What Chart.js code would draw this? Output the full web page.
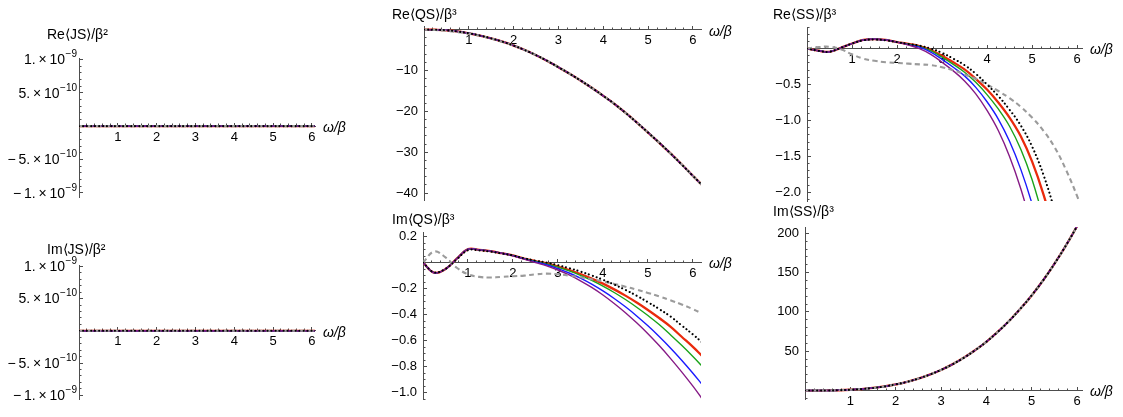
<!DOCTYPE html>
<html>
<head>
<meta charset="utf-8">
<title>Correlators vs omega/beta</title>
<script src="https://cdn.jsdelivr.net/npm/chart.js@4.4.1/dist/chart.umd.min.js"></script>
<style>
    html, body { margin: 0; padding: 0; background: #fff; }
    #wrap { position: relative; width: 1123px; height: 417px; overflow: hidden; }
    #wrap canvas { position: absolute; left: 0; top: 0; }
</style>
</head>
<body>
<div id="wrap"></div>
<script>
// ============================================
// DATA
// ============================================

const omega = [0, 0.25, 0.5, 0.75, 1, 1.25, 1.5, 1.75, 2, 2.25, 2.5, 2.75, 3,
    3.25, 3.5, 3.75, 4, 4.25, 4.5, 4.75, 5, 5.25, 5.5, 5.75, 6, 6.2];

// <JS> vanishes identically
const reJS = [0, 0, 0, 0, 0, 0, 0, 0, 0, 0, 0, 0, 0, 0, 0, 0, 0, 0, 0, 0, 0, 0, 0, 0, 0, 0];
const imJS = [0, 0, 0, 0, 0, 0, 0, 0, 0, 0, 0, 0, 0, 0, 0, 0, 0, 0, 0, 0, 0, 0, 0, 0, 0, 0];

// Re<QS>: all curves on top of each other
const reQS = [0, -0.03, -0.15, -0.45, -0.9, -1.45, -2.15, -2.95, -3.9, -5.0, -6.25, -7.65, -9.2,
    -10.8, -12.5, -14.3, -16.2, -18.2, -20.4, -22.75, -25.2, -27.7, -30.3, -33.0, -35.8, -38.0];
const reQSGray = [0, -0.1, -0.3, -0.6, -1.0, -1.5, -2.2, -3.0, -3.9, -5.0, -6.25, -7.65, -9.2,
    -10.8, -12.5, -14.3, -16.2, -18.2, -20.4, -22.75, -25.2, -27.7, -30.3, -33.0, -35.8, -38.0];

// Re<SS>
const reSSPurple = [0, -0.03, -0.045, 0.01, 0.07, 0.12, 0.13, 0.12, 0.09, 0.05, 0.0, -0.08, -0.19,
    -0.31, -0.45, -0.63, -0.86, -1.14, -1.5, -1.95, -2.5, -3.15, -3.9, -4.8, -5.8, -6.7];
const reSSBlue = [0, -0.03, -0.045, 0.01, 0.07, 0.12, 0.13, 0.12, 0.09, 0.055, 0.02, -0.05, -0.15,
    -0.26, -0.38, -0.54, -0.74, -0.98, -1.29, -1.68, -2.16, -2.75, -3.4, -4.2, -5.1, -5.9];
const reSSGreen = [0, -0.03, -0.045, 0.01, 0.07, 0.12, 0.13, 0.12, 0.09, 0.06, 0.03, -0.03, -0.12,
    -0.22, -0.33, -0.47, -0.64, -0.84, -1.08, -1.40, -1.82, -2.36, -2.95, -3.65, -4.45, -5.2];
const reSSRed = [0, -0.03, -0.045, 0.01, 0.07, 0.12, 0.13, 0.12, 0.09, 0.065, 0.035, -0.02, -0.10,
    -0.19, -0.29, -0.42, -0.57, -0.75, -0.96, -1.22, -1.57, -2.02, -2.58, -3.25, -4.0, -4.7];
const reSSDotted = [0, -0.03, -0.045, 0.01, 0.07, 0.115, 0.125, 0.115, 0.09, 0.065, 0.04, 0.0, -0.06,
    -0.14, -0.23, -0.35, -0.5, -0.66, -0.85, -1.07, -1.36, -1.75, -2.25, -2.85, -3.5, -4.1];
const reSSGray = [0, 0.02, 0.025, -0.01, -0.08, -0.14, -0.17, -0.19, -0.2, -0.21, -0.22, -0.23, -0.26,
    -0.3, -0.36, -0.42, -0.5, -0.59, -0.69, -0.81, -0.96, -1.14, -1.37, -1.68, -2.05, -2.4];

// Im<QS>
const imQSPurple = [0, -0.078, -0.05, 0.03, 0.103, 0.098, 0.088, 0.072, 0.052, 0.026, 0.0, -0.025, -0.057,
    -0.095, -0.14, -0.191, -0.249, -0.314, -0.385, -0.463, -0.547, -0.638, -0.736, -0.84, -0.95, -1.044];
const imQSBlue = [0, -0.078, -0.05, 0.03, 0.103, 0.098, 0.088, 0.072, 0.053, 0.028, 0.005, -0.017, -0.046,
    -0.08, -0.12, -0.166, -0.218, -0.276, -0.34, -0.41, -0.486, -0.568, -0.656, -0.75, -0.85, -0.935];
const imQSGreen = [0, -0.078, -0.05, 0.03, 0.103, 0.098, 0.088, 0.072, 0.054, 0.03, 0.01, -0.01, -0.035,
    -0.064, -0.098, -0.137, -0.181, -0.23, -0.284, -0.343, -0.407, -0.476, -0.555, -0.636, -0.722, -0.795];
const imQSRed = [0, -0.078, -0.05, 0.03, 0.103, 0.098, 0.088, 0.072, 0.055, 0.031, 0.012, -0.007, -0.03,
    -0.057, -0.088, -0.123, -0.162, -0.206, -0.254, -0.307, -0.364, -0.426, -0.492, -0.57, -0.648, -0.716];
const imQSDotted = [0, -0.075, -0.048, 0.025, 0.095, 0.093, 0.084, 0.07, 0.054, 0.033, 0.015, 0.0, -0.02,
    -0.043, -0.069, -0.099, -0.132, -0.169, -0.21, -0.255, -0.304, -0.357, -0.414, -0.483, -0.552, -0.612];
const imQSGray = [0, 0.085, 0.04, -0.04, -0.09, -0.11, -0.115, -0.11, -0.105, -0.1, -0.09, -0.085, -0.09,
    -0.1, -0.113, -0.128, -0.145, -0.164, -0.185, -0.208, -0.233, -0.26, -0.289, -0.322, -0.358, -0.39];

// Im<SS>: all curves on top of each other
const imSS = [0, 0, 0.1, 0.4, 1, 1.9, 3.3, 5.2, 7.8, 11, 15.2, 20.2, 26.2,
    33.3, 41.6, 51.2, 62, 74.5, 88.4, 104, 121, 140, 161, 184, 209, 231];

// tick labels
const xTickValues = [1, 2, 3, 4, 5, 6];
const xTickLabels = ['1', '2', '3', '4', '5', '6'];
const jsTickValues = [-1e-9, -5e-10, 5e-10, 1e-9];
const jsTickBase = ['\u2212\u20091.\u2009\u00d7\u200910', '\u2212\u20095.\u2009\u00d7\u200910',
    '5.\u2009\u00d7\u200910', '1.\u2009\u00d7\u200910'];
const jsTickExp = ['\u22129', '\u221210', '\u221210', '\u22129'];
const reQSTickValues = [-40, -30, -20, -10];
const reQSTickLabels = ['\u221240', '\u221230', '\u221220', '\u221210'];
const reSSTickValues = [-2, -1.5, -1, -0.5];
const reSSTickLabels = ['\u22122.0', '\u22121.5', '\u22121.0', '\u22120.5'];
const imQSTickValues = [-1, -0.8, -0.6, -0.4, -0.2, 0.2];
const imQSTickLabels = ['\u22121.0', '\u22120.8', '\u22120.6', '\u22120.4', '\u22120.2', '0.2'];
const imSSTickValues = [50, 100, 150, 200];
const imSSTickLabels = ['50', '100', '150', '200'];

// ============================================
// STYLE / LAYOUT
// ============================================

const FONT = '"Liberation Sans", Arial, Helvetica, sans-serif';
const AXIS_COLOR = '#4d4d4d';
const Y_LABEL_BOX = 75;   // room kept left of each y axis for its labels

// drawn bottom -> top (higher order is drawn first)
const seriesStyle = {
    red:    { color: '#ea2a0c', width: 2.3, dash: [], order: 6 },
    green:  { color: '#1aa31a', width: 1.4, dash: [], order: 5 },
    blue:   { color: '#1a1aff', width: 1.4, dash: [], order: 4 },
    purple: { color: '#861a86', width: 1.4, dash: [], order: 3 },
    gray:   { color: '#9b9b9b', width: 2.1, dash: [5, 3.5], order: 2 },
    dotted: { color: '#000000', width: 2.1, dash: [0.01, 4], order: 1, cap: 'round' }
};

const panels = [
    {
        title: 'Re\u27e8JS\u27e9/\u03b2\u00b2', titleOffset: [-32, -23],
        area: [79, 58, 315, 197], x: [0, 6.08], y: [-1.06e-9, 1.02e-9],
        yStep: [5e-10, 1e-10], yTicks: [jsTickValues, null], sci: [jsTickValues, jsTickBase, jsTickExp],
        series: { red: reJS, green: reJS, blue: reJS, purple: reJS, gray: reJS, dotted: reJS }
    },
    {
        title: 'Re\u27e8QS\u27e9/\u03b2\u00b3', titleOffset: [-32, -13],
        area: [424, 28, 701, 200], x: [0, 6.18], y: [-41.7, 0.4],
        yStep: [10, 2], yTicks: [reQSTickValues, reQSTickLabels],
        series: { red: reQS, green: reQS, blue: reQS, purple: reQS, gray: reQSGray, dotted: reQS }
    },
    {
        title: 'Re\u27e8SS\u27e9/\u03b2\u00b3', titleOffset: [-34, -12],
        area: [807, 27, 1082, 201], x: [0, 6.11], y: [-2.12, 0.3],
        yStep: [0.5, 0.1], yTicks: [reSSTickValues, reSSTickLabels],
        series: { red: reSSRed, green: reSSGreen, blue: reSSBlue, purple: reSSPurple, gray: reSSGray, dotted: reSSDotted }
    },
    {
        title: 'Im\u27e8JS\u27e9/\u03b2\u00b2', titleOffset: [-32, -15],
        area: [79, 265, 315, 406], x: [0, 6.08], y: [-1.06e-9, 1.02e-9],
        yStep: [5e-10, 1e-10], yTicks: [jsTickValues, null], sci: [jsTickValues, jsTickBase, jsTickExp],
        series: { red: imJS, green: imJS, blue: imJS, purple: imJS, gray: imJS, dotted: imJS }
    },
    {
        title: 'Im\u27e8QS\u27e9/\u03b2\u00b3', titleOffset: [-31, -12],
        area: [423, 232, 701, 407.5], x: [0, 6.18], y: [-1.05, 0.235],
        yStep: [0.2, 0.05], yTicks: [imQSTickValues, imQSTickLabels],
        series: { red: imQSRed, green: imQSGreen, blue: imQSBlue, purple: imQSPurple, gray: imQSGray, dotted: imQSDotted }
    },
    {
        title: 'Im\u27e8SS\u27e9/\u03b2\u00b3', titleOffset: [-32, -15],
        area: [805, 227, 1082, 401], x: [0, 6.11], y: [-11, 208],
        yStep: [50, 10], yTicks: [imSSTickValues, imSSTickLabels],
        series: { red: imSS, green: imSS, blue: imSS, purple: imSS, gray: imSS, dotted: imSS }
    }
];

// ============================================
// HELPERS
// ============================================

function onStep(v, step) {
    const r = v / step;
    return Math.abs(r - Math.round(r)) < 1e-6;
}

function tickLabel(v, values, labels) {
    if (!labels) return '';
    const i = values.findIndex(t => Math.abs(t - v) < Math.abs(t) * 1e-6 + 1e-15);
    return i < 0 ? '' : labels[i];
}

// axes cross at the origin, ticks point into the plot
function makeScale(axis, range, step, major, position, tickVals, tickLabs, pad, boxSize) {
    return {
        type: 'linear',
        axis: axis,
        position: position,
        min: range[0],
        max: range[1],
        afterFit(s) {
            if (axis === 'x') s.height = 0;
            else s.width = boxSize;
        },
        afterBuildTicks(s) { s.ticks = s.ticks.filter(t => onStep(t.value, step)); },
        grid: {
            drawOnChartArea: false,
            drawTicks: true,
            tickLength: major ? -4 : -2.5,
            tickColor: AXIS_COLOR,
            tickWidth: 1,
            color: AXIS_COLOR
        },
        border: { display: major, color: AXIS_COLOR, width: 1 },
        ticks: {
            display: major,
            stepSize: step,
            includeBounds: false,
            autoSkip: false,
            maxRotation: 0,
            minRotation: 0,
            padding: pad,
            color: '#000',
            font: { family: FONT, size: 13 },
            callback: v => tickLabel(v, tickVals, tickLabs)
        }
    };
}

// axis titles, omega/beta, and the "a x 10^n" tick labels with a raised exponent
const panelText = {
    id: 'panelText',
    afterDraw(chart, args, opts) {
        const { ctx, chartArea } = chart;
        const yScale = chart.scales.y;
        const y0 = yScale.getPixelForValue(0);
        ctx.save();
        ctx.fillStyle = '#000';
        ctx.textAlign = 'left';
        ctx.textBaseline = 'middle';
        ctx.font = '14px ' + FONT;
        ctx.fillText(opts.title, chartArea.left + opts.titleOffset[0], chartArea.top + opts.titleOffset[1]);
        ctx.font = 'italic 14px ' + FONT;
        ctx.fillText('\u03c9/\u03b2', chartArea.right + 8, y0 + 2);

        if (opts.sci) {
            const [vals, bases, exps] = opts.sci;
            const xr = chartArea.left - 2;
            vals.forEach((v, i) => {
                const y = yScale.getPixelForValue(v);
                ctx.font = '10px ' + FONT;
                const ew = ctx.measureText(exps[i]).width;
                ctx.textAlign = 'left';
                ctx.fillText(exps[i], xr - ew, y - 5);
                ctx.font = '14px ' + FONT;
                ctx.textAlign = 'right';
                ctx.fillText(bases[i], xr - ew - 0.5, y + 1);
            });
        }
        ctx.restore();
    }
};

// ============================================
// RENDER
// ============================================

const wrap = document.getElementById('wrap');
const W = 1123, H = 417;

panels.forEach(p => {
    const cv = document.createElement('canvas');
    cv.width = W;
    cv.height = H;
    cv.style.width = W + 'px';
    cv.style.height = H + 'px';
    wrap.appendChild(cv);

    const datasets = Object.keys(seriesStyle).map(key => {
        const st = seriesStyle[key];
        const ys = p.series[key];
        return {
            label: key,
            data: omega.map((x, i) => ({ x: x, y: ys[i] })),
            xAxisID: 'x',
            yAxisID: 'y',
            borderColor: st.color,
            borderWidth: st.width,
            borderDash: st.dash,
            borderCapStyle: st.cap || 'butt',
            pointRadius: 0,
            fill: false,
            tension: 0.4,
            order: st.order
        };
    });

    new Chart(cv, {
        type: 'line',
        data: { datasets },
        options: {
            responsive: false,
            animation: false,
            devicePixelRatio: 1,
            events: [],
            elements: { line: { capBezierPoints: false } },
            layout: {
                padding: {
                    left: p.area[0] - Y_LABEL_BOX,
                    top: p.area[1],
                    right: W - p.area[2],
                    bottom: H - p.area[3]
                }
            },
            plugins: {
                legend: { display: false },
                tooltip: { enabled: false },
                panelText: { title: p.title, titleOffset: p.titleOffset, sci: p.sci || null }
            },
            scales: {
                x: makeScale('x', p.x, 1, true, { y: 0 }, xTickValues, xTickLabels, 7, 0),
                xm: makeScale('x', p.x, 0.2, false, { y: 0 }, [], [], 0, 0),
                y: makeScale('y', p.y, p.yStep[0], true, 'left', p.yTicks[0], p.yTicks[1], 10, Y_LABEL_BOX),
                ym: makeScale('y', p.y, p.yStep[1], false, { x: 0 }, [], [], 0, 0)
            }
        },
        plugins: [panelText]
    });
});
</script>
</body>
</html>
